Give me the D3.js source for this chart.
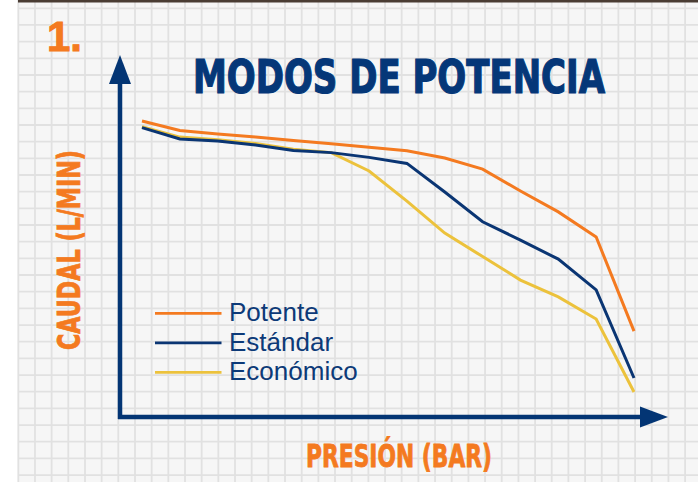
<!DOCTYPE html>
<meta charset="utf-8">
<script src="https://d3js.org/d3.v7.min.js"></script>
<style>
  body { margin: 0; background: #fff; }
</style>
<div id="my_dataviz"></div>
<script>

// pressure steps along the x axis
var presion = [0, 1, 2, 3, 4, 5, 6, 7, 8, 9, 10, 11, 12, 13];

// flow (relative) for each power mode
var potente   = [93.4, 90.4, 89.3, 88.3, 87.2, 86.2, 85.1, 84.0, 81.7, 78.2, 71.3, 64.7, 56.8, 27.1];
var estandar  = [91.3, 87.7, 87.1, 85.8, 84.1, 83.4, 81.9, 80.0, 71.0, 61.6, 55.8, 49.8, 40.1, 12.3];
var economico = [91.6, 88.3, 87.5, 86.3, 84.5, 83.4, 77.6, 68.1, 58.0, 50.6, 43.2, 37.9, 30.9, 7.9];

var seriesNames = ["Potente", "Estándar", "Económico"];
var seriesColors = ["#f47a20", "#0a3573", "#ecc23c"];

var width = 698, height = 482;

var svg = d3.select("#my_dataviz")
  .append("svg")
    .attr("width", width)
    .attr("height", height);

// squared paper background
svg.append("rect")
  .attr("x", 18).attr("y", 0)
  .attr("width", width - 18).attr("height", height)
  .attr("fill", "#f6f6f6");

var grid = svg.append("g");
grid.selectAll(".v")
  .data(d3.range(18.3, width, 16.67))
  .enter().append("line")
    .attr("x1", function(d){ return d; }).attr("x2", function(d){ return d; })
    .attr("y1", 0).attr("y2", height)
    .attr("stroke", "#e1e1e1").attr("stroke-width", 1.8);
grid.selectAll(".h")
  .data(d3.range(8.3, height, 16.67))
  .enter().append("line")
    .attr("x1", 18).attr("x2", width)
    .attr("y1", function(d){ return d; }).attr("y2", function(d){ return d; })
    .attr("stroke", "#e1e1e1").attr("stroke-width", 1.8);

svg.append("rect")
  .attr("x", 18).attr("y", 0)
  .attr("width", width - 18).attr("height", 2.5)
  .attr("fill", "#4a3d34");

var x = d3.scaleLinear()
  .domain([0, 13])
  .range([142, 634]);

var y = d3.scaleLinear()
  .domain([0, 100])
  .range([417, 100]);

// axes with arrow heads
var navy = "#033574";
svg.append("line")
  .attr("x1", 120).attr("x2", 120)
  .attr("y1", 419).attr("y2", 80)
  .attr("stroke", navy).attr("stroke-width", 4.5);
svg.append("path")
  .attr("d", "M120,55 L131,84 L109,84 Z")
  .attr("fill", navy);
svg.append("line")
  .attr("x1", 118).attr("x2", 644)
  .attr("y1", 417).attr("y2", 417)
  .attr("stroke", navy).attr("stroke-width", 4.5);
svg.append("path")
  .attr("d", "M668,417 L640,406.5 L640,427.5 Z")
  .attr("fill", navy);

var line = d3.line()
  .x(function(d, i) { return x(presion[i]); })
  .y(function(d) { return y(d); });

var data = [economico, estandar, potente];
var colorsDraw = [seriesColors[2], seriesColors[1], seriesColors[0]];

svg.append("g")
  .selectAll("path")
  .data(data)
  .enter().append("path")
    .attr("d", line)
    .attr("fill", "none")
    .attr("stroke", function(d, i) { return colorsDraw[i]; })
    .attr("stroke-width", 3)
    .attr("stroke-linejoin", "miter");

// legend
var legend = svg.append("g")
  .selectAll("g")
  .data(seriesNames)
  .enter().append("g")
    .attr("transform", function(d, i) { return "translate(155," + (313.3 + i * 29.5) + ")"; });
legend.append("line")
  .attr("x1", 0).attr("x2", 66.5)
  .attr("stroke", function(d, i) { return seriesColors[i]; })
  .attr("stroke-width", 2.7);
legend.append("text")
  .attr("x", 74)
  .attr("y", 8)
  .attr("fill", "#0d3a78")
  .style("font-family", "'Liberation Sans', Arial, sans-serif")
  .style("font-size", "26px")
  .text(function(d) { return d; });

// texts
var condensed = "'Liberation Sans Narrow', 'DejaVu Sans Condensed', sans-serif";

svg.append("text")
  .attr("x", 193)
  .attr("y", 92.7)
  .attr("textLength", 412)
  .attr("lengthAdjust", "spacingAndGlyphs")
  .attr("fill", "#053778")
  .attr("stroke", "#053778").attr("stroke-width", 1.2)
  .style("font-family", condensed)
  .style("font-weight", "bold")
  .style("font-size", "46px")
  .text("MODOS DE POTENCIA");

svg.append("text")
  .attr("x", 47)
  .attr("y", 51)
  .attr("textLength", 35)
  .attr("lengthAdjust", "spacingAndGlyphs")
  .attr("fill", "#f47a20")
  .attr("stroke", "#f47a20").attr("stroke-width", 1)
  .style("font-family", "'Liberation Sans', Arial, sans-serif")
  .style("font-weight", "bold")
  .style("font-size", "43px")
  .text("1.");

svg.append("text")
  .attr("x", 306)
  .attr("y", 466.7)
  .attr("textLength", 186)
  .attr("lengthAdjust", "spacingAndGlyphs")
  .attr("fill", "#f47a20")
  .attr("stroke", "#f47a20").attr("stroke-width", 0.8)
  .style("font-family", condensed)
  .style("font-weight", "bold")
  .style("font-size", "32px")
  .text("PRESIÓN (BAR)");

svg.append("text")
  .attr("transform", "translate(80,350) rotate(-90)")
  .attr("x", 0)
  .attr("y", 0)
  .attr("textLength", 200)
  .attr("lengthAdjust", "spacingAndGlyphs")
  .attr("fill", "#f47a20")
  .attr("stroke", "#f47a20").attr("stroke-width", 0.8)
  .style("font-family", condensed)
  .style("font-weight", "bold")
  .style("font-size", "32px")
  .text("CAUDAL (L/MIN)");

</script>
